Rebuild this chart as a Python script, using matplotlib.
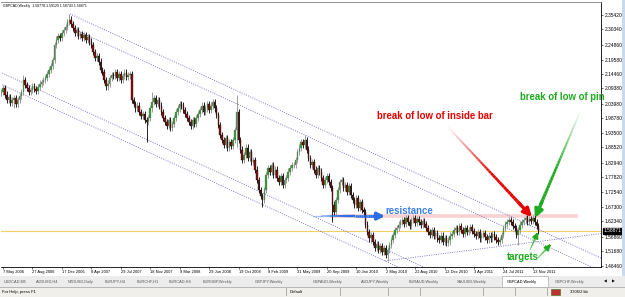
import numpy as np
import matplotlib
matplotlib.use('Agg')
import matplotlib.pyplot as plt
from matplotlib.collections import LineCollection
from matplotlib.colors import to_rgba
from matplotlib.patches import Rectangle

plt.rcParams['font.family'] = ['Liberation Sans', 'DejaVu Sans']

# GBPCAD weekly closes, first value = week before 7 May 2006
closes = [
    2.081, 2.095, 2.071, 2.053, 2.063, 2.042, 2.053, 2.060, 2.039, 2.053, 2.067, 2.081,
    2.124, 2.106, 2.095, 2.081, 2.088, 2.102, 2.092, 2.085, 2.099, 2.110,
    2.117, 2.124, 2.131, 2.145, 2.159, 2.173, 2.195,
    2.248, 2.266, 2.280, 2.273, 2.290,
    2.301, 2.312, 2.329, 2.337, 2.322, 2.308,
    2.290, 2.301, 2.280, 2.287, 2.273, 2.283, 2.266, 2.276, 2.259, 2.248,
    2.223, 2.202, 2.209, 2.188, 2.159, 2.152,
    2.124, 2.102, 2.110, 2.131, 2.141,
    2.138, 2.152, 2.131, 2.145, 2.124, 2.138, 2.149, 2.134, 2.141, 2.145,
    2.053, 2.039, 2.024, 2.032, 2.010, 1.996, 2.003, 1.982, 1.975, 1.989,
    2.024, 2.046, 2.060, 2.039, 2.053, 2.032,
    2.010, 1.989, 1.975, 1.961, 1.982, 1.954, 1.968, 1.989,
    2.010, 2.024, 2.039, 2.032, 2.017, 2.003,
    1.989, 1.975, 1.961, 1.982, 1.968, 1.989, 2.003,
    2.017, 2.032, 2.010, 2.024, 2.039, 2.017, 2.032, 2.046,
    2.024, 2.000, 1.964, 1.929,
    1.911, 1.893, 1.918, 1.883, 1.904, 1.890, 1.911,
    1.946, 2.010, 1.911,
    1.876, 1.840, 1.858, 1.883, 1.847, 1.868, 1.833, 1.840,
    1.805, 1.769, 1.734, 1.712, 1.698, 1.734,
    1.787, 1.812, 1.798, 1.822, 1.787, 1.805, 1.776,
    1.762, 1.783, 1.751, 1.769, 1.776, 1.798, 1.812, 1.822,
    1.822, 1.840, 1.868, 1.883, 1.904, 1.893, 1.911,
    1.876, 1.847, 1.822, 1.833, 1.805, 1.787, 1.812, 1.798,
    1.776, 1.751, 1.769, 1.783, 1.762, 1.741,
    1.681, 1.656, 1.698, 1.734, 1.762,
    1.769, 1.741, 1.751, 1.727, 1.748, 1.716,
    1.698, 1.681, 1.705, 1.670, 1.691, 1.663,
    1.656, 1.610, 1.585, 1.563, 1.574,
    1.549, 1.528, 1.542, 1.521, 1.535, 1.514, 1.528, 1.503, 1.521,
    1.539, 1.556, 1.574, 1.592, 1.599, 1.610, 1.620,
    1.627, 1.613, 1.634, 1.620, 1.606, 1.627, 1.634, 1.617, 1.631, 1.620, 1.610, 1.624, 1.613,
    1.599, 1.585, 1.574, 1.592, 1.571, 1.581, 1.563,
    1.556, 1.571, 1.549, 1.563, 1.546, 1.556, 1.571, 1.578,
    1.592, 1.599, 1.585, 1.606, 1.592, 1.578, 1.599, 1.585, 1.592, 1.602, 1.588,
    1.578, 1.571, 1.585, 1.563, 1.574, 1.581, 1.567, 1.556, 1.571, 1.563, 1.578, 1.567, 1.556, 1.549,
    1.556, 1.574, 1.599, 1.613, 1.620, 1.627,
    1.620, 1.606, 1.599, 1.574, 1.592, 1.610, 1.620,
    1.627, 1.634, 1.620, 1.631, 1.624, 1.634, 1.620, 1.606, 1.5887,
]
first_open = 2.078
wick = 0.012
# visible long shadows (week index -> price)
marked_highs = {11: 2.141, 36: 2.358, 81: 2.081, 127: 2.071, 164: 1.929, 287: 1.643, 289: 1.645}
marked_lows = {6: 2.024, 78: 1.904, 127: 1.885, 141: 1.673, 179: 1.620, 209: 1.482,
               243: 1.539, 270: 1.539, 280: 1.539}

dates = ['7 May 2006', '27 Aug 2006', '17 Dec 2006', '8 Apr 2007', '29 Jul 2007',
         '18 Nov 2007', '9 Mar 2008', '29 Jun 2008', '19 Oct 2008', '8 Feb 2009',
         '31 May 2009', '20 Sep 2009', '10 Jan 2010', '2 May 2010', '22 Aug 2010',
         '12 Dec 2010', '3 Apr 2011', '24 Jul 2011', '13 Nov 2011']
price_ticks = [2.35420, 2.30340, 2.24860, 2.19580, 2.14460, 2.09380, 2.03980, 1.98780,
               1.93500, 1.88520, 1.82940, 1.77820, 1.72540, 1.67300, 1.62340, 1.56860,
               1.51680, 1.46460]
bid = 1.58871
resistance = 1.640

# trend lines (week, price) anchors
trend_lines = [
    [(36.4, 2.358), (161.4, 1.983)],
    [(40.0, 2.300), (161.4, 1.936)],
    [(-1.6, 2.152), (232.0, 1.450)],
    [(-1.6, 2.110), (141.0, 1.682)],
    [(207.6, 1.482), (315.2, 1.571)],
]

tabs = ['USDCAD,M5', 'AUDUSD,H4', 'NZDUSD,Daily', 'EURJPY,H4', 'EURCHF,H1', 'EURCAD,H4',
        'EURGBP,Weekly', 'GBPJPY,Weekly', 'GBPAUD,Weekly', 'AUDJPY,Weekly', 'EURAUD,Weekly',
        'XAUUSD,Weekly', 'GBPCAD,Weekly', 'GBPCHF,Weekly']
tab_x = [4, 36, 68, 105, 137, 169, 203, 255, 313, 361, 409, 457, 507, 555]

W, H = 625, 297
def fx(x): return x / W
def fy(y): return 1 - y / H

fig = plt.figure(figsize=(6.25, 2.97), dpi=100)
fig.patch.set_facecolor('white')
ax = fig.add_axes([fx(1), fy(267), 600 / W, 265 / H])
ax.set_xlim(-1.09, 325.0)
ax.set_ylim(1.4606, 2.4003)

c = np.array(closes)
o = np.concatenate([[first_open], c[:-1]])
wk = np.arange(len(c)) - 1
hi = np.maximum(o, c) + wick
lo = np.minimum(o, c) - wick
for k, v in marked_highs.items():
    hi[wk == k] = max(v, np.maximum(o, c)[wk == k][0])
for k, v in marked_lows.items():
    lo[wk == k] = min(v, np.minimum(o, c)[wk == k][0])
up = c >= o
body = np.maximum(np.abs(c - o), 0.002)
bot = np.minimum(o, c)

ax.vlines(wk[up], lo[up], hi[up], color='#8c8c8c', lw=0.6, zorder=3)
ax.vlines(wk[~up], lo[~up], hi[~up], color='black', lw=0.6, zorder=3)
ax.bar(wk[up], body[up], bottom=bot[up], width=0.8, color='#2f9a2f',
       edgecolor='#7a7a7a', lw=0.25, zorder=4)
ax.bar(wk[~up], body[~up], bottom=bot[~up], width=0.8, color='#8b1010',
       edgecolor='black', lw=0.25, zorder=4)

# channel lines as rays to the right
for (i0, p0), (i1, p1) in trend_lines:
    s = (p1 - p0) / (i1 - i0)
    ax.plot([i0, 330], [p0, p0 + s * (330 - i0)], color='#6a6ab8', lw=0.6,
            ls=(0, (1.2, 1.6)), zorder=2)

ax.axhline(bid, color='#f2d060', lw=0.8, zorder=1)
ax.hlines(resistance, 177.7, 312.5, color='#f8d2d2', lw=2.6, zorder=1)


def fade_arrow(start, end, color, width, head, a0=0.05):
    n = 40
    t = np.linspace(0, 1, n)
    xs = start[0] + (end[0] - start[0]) * t
    ys = start[1] + (end[1] - start[1]) * t
    k = int(n * 0.88)
    pts = np.column_stack([xs[:k], ys[:k]])
    segs = np.stack([pts[:-1], pts[1:]], axis=1)
    alphas = np.clip(np.linspace(a0, 1.6, k - 1), 0, 1)
    lc = LineCollection(segs, colors=[to_rgba(color, a) for a in alphas],
                        linewidths=np.linspace(width * 0.4, width, k - 1),
                        capstyle='butt', zorder=6)
    ax.add_collection(lc)
    ax.annotate('', xy=end, xytext=(xs[k - 2], ys[k - 2]),
                arrowprops=dict(arrowstyle='-|>', color=color, lw=width,
                                mutation_scale=head, shrinkA=0, shrinkB=0), zorder=6)


fade_arrow((241.8, 1.957), (287.5, 1.638), '#e60000', 2.4, 12)
fade_arrow((313.6, 2.010), (289.1, 1.634), '#1faa1f', 2.4, 12)
fade_arrow((168.5, 1.641), (207.6, 1.641), '#2a6fe6', 2.2, 11, a0=0.4)
fade_arrow((286.4, 1.521), (290.8, 1.585), '#1faa1f', 1.5, 8, a0=0.7)
fade_arrow((290.8, 1.493), (297.8, 1.542), '#1faa1f', 1.5, 8, a0=0.7)

ax.text(203.3, 1.997, 'break of low of inside bar', color='#e60000', fontsize=6.9,
        fontweight='bold', va='center', ha='left', zorder=7)
ax.text(281.0, 2.062, 'break of low of pin', color='#1faa1f', fontsize=6.9,
        fontweight='bold', va='center', ha='left', zorder=7, clip_on=False)
ax.text(207.6, 1.659, 'resistance', color='#3a7fe8', fontsize=6.9,
        fontweight='bold', va='center', ha='left', zorder=7)
ax.text(273.9, 1.496, 'targets', color='#1faa1f', fontsize=6.9,
        fontweight='bold', va='center', ha='left', zorder=7)

# axes styling like the terminal
ax.spines['left'].set_visible(False)
ax.spines['top'].set_color('#808080')
for side in ['right', 'bottom']:
    ax.spines[side].set_color('black')
for sp in ax.spines.values():
    sp.set_linewidth(0.6)
ax.yaxis.tick_right()
ax.set_yticks(price_ticks)
ax.set_yticklabels(['%.5f' % v for v in price_ticks])
ax.tick_params(axis='y', length=1.5, width=0.4, pad=1, labelsize=3.5)
ax.set_xticks(np.arange(len(dates)) * 16)
ax.set_xticklabels(dates)
ax.tick_params(axis='x', length=1.5, width=0.4, pad=0.4, labelsize=2.9)
for lbl in ax.get_xticklabels():
    lbl.set_ha('left')

ax.text(1.004, bid, '%.5f' % bid, transform=ax.get_yaxis_transform(), color='white',
        fontsize=3.5, va='center', ha='left',
        bbox=dict(boxstyle='square,pad=0.15', fc='black', ec='black'))

fig.text(fx(3), fy(5.5), 'GBPCAD,Weekly  1.58778 1.59129 1.58743 1.58871',
         fontsize=2.5, va='center', ha='left')

# window strip on the right
fig.patches.append(Rectangle((fx(622), fy(276)), 3 / W, 276 / H, transform=fig.transFigure,
                             fc='#c9daf0', ec='none'))
# tab bar
fig.patches.append(Rectangle((0, fy(287)), 1, 11 / H, transform=fig.transFigure,
                             fc='#ececec', ec='none'))
fig.patches.append(Rectangle((fx(502), fy(287)), 46 / W, 11 / H, transform=fig.transFigure,
                             fc='white', ec='#9a9a9a', lw=0.4))
for t, x in zip(tabs, tab_x):
    fig.text(fx(x), fy(281.5), t, fontsize=2.8, va='center', ha='left',
             color='black' if t == 'GBPCAD,Weekly' else '#555555')
    if x > 10 and t != 'GBPCAD,Weekly' and x != 555:
        fig.patches.append(Rectangle((fx(x - 4), fy(285)), 0.4 / W, 7 / H,
                                     transform=fig.transFigure, fc='#a0a0a0', ec='none'))
fig.text(fx(604), fy(281.5), '\u25c0', fontsize=2.6, va='center', ha='left', family='DejaVu Sans')
fig.text(fx(612), fy(281.5), '\u25b6', fontsize=2.6, va='center', ha='left', family='DejaVu Sans')

# status bar
fig.patches.append(Rectangle((0, 0), 1, 10 / H, transform=fig.transFigure,
                             fc='#f0efea', ec='none'))
fig.patches.append(Rectangle((0, fy(287.5)), 1, 0.5 / H, transform=fig.transFigure,
                             fc='#b8b8b8', ec='none'))
fig.text(fx(2), fy(292), 'For Help, press F1', fontsize=3.0, va='center', ha='left')
fig.text(fx(290), fy(292), 'Default', fontsize=3.0, va='center', ha='left')
for x in [286, 340, 388, 420, 452, 483, 515, 547]:
    fig.patches.append(Rectangle((fx(x), fy(296)), 0.5 / W, 8 / H,
                                 transform=fig.transFigure, fc='#b0b0b0', ec='none'))
fig.patches.append(Rectangle((fx(551), fy(295)), 9 / W, 6 / H, transform=fig.transFigure,
                             fc='#c03030', ec='#4a7a2a', lw=0.5))
fig.text(fx(570), fy(292), '3306/2 kb', fontsize=3.0, va='center', ha='left')

fig.savefig('out.png', dpi=100)
